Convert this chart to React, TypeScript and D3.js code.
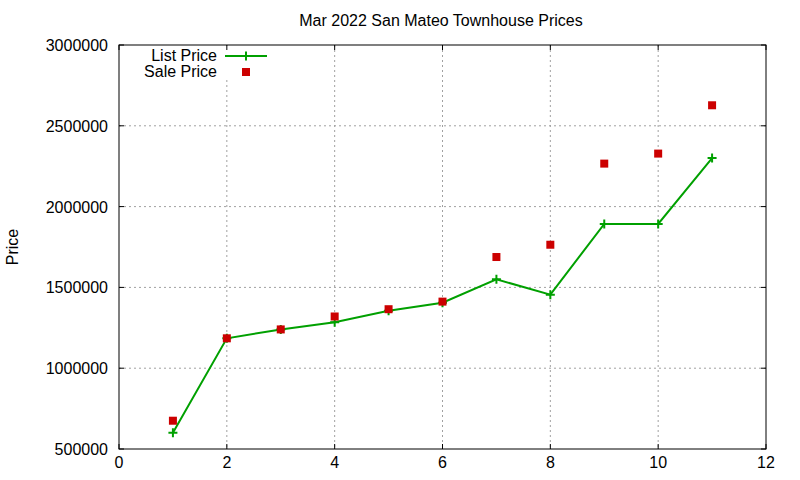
import React from 'react';
import * as d3 from 'd3';

const months = [1, 2, 3, 4, 5, 6, 7, 8, 9, 10, 11];
const listPrice = [600000, 1185000, 1240000, 1285000, 1355000, 1405000, 1550000, 1455000, 1893000, 1893000, 2300000];
const salePrice = [675000, 1185000, 1240000, 1320000, 1365000, 1412000, 1688000, 1764000, 2266000, 2328000, 2627000];
const xTicks = [0, 2, 4, 6, 8, 10, 12];
const yTicks = [500000, 1000000, 1500000, 2000000, 2500000, 3000000];

const W = 800;
const H = 480;
const left = 119, right = 766, top = 45, bottom = 449;
const font = '"Liberation Sans", Arial, sans-serif';
const GREEN = '#00a000';
const RED = '#cc0000';

const App: React.FC = () => {
  const x = d3.scaleLinear().domain([0, 12]).range([left, right]);
  const y = d3.scaleLinear().domain([500000, 3000000]).range([bottom, top]);

  const line = d3.line<number>()
    .x((_, i) => x(months[i]))
    .y(d => y(d));

  const plus = (cx: number, cy: number, k: string | number) => (
    <path key={k} d={`M${cx - 4.5},${cy}H${cx + 4.5}M${cx},${cy - 4.5}V${cy + 4.5}`} stroke={GREEN} strokeWidth={2} fill="none" />
  );

  return (
    <svg width={W} height={H} style={{ position: 'absolute', left: 0, top: 0, background: '#fff' }} fontFamily={font}>
      <rect width={W} height={H} fill="#fff" />
      {/* grid */}
      <g stroke="#a0a0a0" strokeWidth={1} strokeDasharray="2,3">
        {xTicks.slice(1, -1).map(t => (
          <line key={'gx' + t} x1={x(t)} x2={x(t)} y1={top} y2={bottom} />
        ))}
        {yTicks.slice(1, -1).map(t => (
          <line key={'gy' + t} x1={left} x2={right} y1={y(t)} y2={y(t)} />
        ))}
      </g>
      {/* legend background */}
      <rect x={left + 1} y={top + 1} width={150} height={34} fill="#fff" />
      {/* ticks */}
      <g stroke="#000" strokeWidth={1}>
        {xTicks.map(t => (
          <g key={'tx' + t}>
            <line x1={x(t)} x2={x(t)} y1={bottom} y2={bottom - 5} />
            <line x1={x(t)} x2={x(t)} y1={top} y2={top + 5} />
          </g>
        ))}
        {yTicks.map(t => (
          <g key={'ty' + t}>
            <line x1={left} x2={left + 5} y1={y(t)} y2={y(t)} />
            <line x1={right} x2={right - 5} y1={y(t)} y2={y(t)} />
          </g>
        ))}
      </g>
      <rect x={left} y={top} width={right - left} height={bottom - top} fill="none" stroke="#000" strokeWidth={1} />
      {/* tick labels */}
      <g fontSize={16} fill="#000">
        {xTicks.map(t => (
          <text key={'lx' + t} x={x(t)} y={bottom + 19} textAnchor="middle">{t}</text>
        ))}
        {yTicks.map(t => (
          <text key={'ly' + t} x={left - 11} y={y(t) + 6} textAnchor="end">{t}</text>
        ))}
      </g>
      <text x={441} y={26} fontSize={16} textAnchor="middle">Mar 2022 San Mateo Townhouse Prices</text>
      <text transform={`translate(18,${(top + bottom) / 2}) rotate(-90)`} fontSize={16} textAnchor="middle">Price</text>
      {/* data */}
      <path d={line(listPrice) || ''} fill="none" stroke={GREEN} strokeWidth={2} />
      {listPrice.map((v, i) => plus(x(months[i]), y(v), 'p' + i))}
      {salePrice.map((v, i) => (
        <rect key={'s' + i} x={x(months[i]) - 4} y={y(v) - 4} width={8} height={8} fill={RED} />
      ))}
      {/* legend */}
      <g fontSize={16}>
        <text x={217} y={61} textAnchor="end">List Price</text>
        <line x1={225} x2={267} y1={56} y2={56} stroke={GREEN} strokeWidth={2} />
        {plus(246, 56, 'lp')}
        <text x={217} y={77} textAnchor="end">Sale Price</text>
        <rect x={242} y={68} width={8} height={8} fill={RED} />
      </g>
    </svg>
  );
};

export default App;
